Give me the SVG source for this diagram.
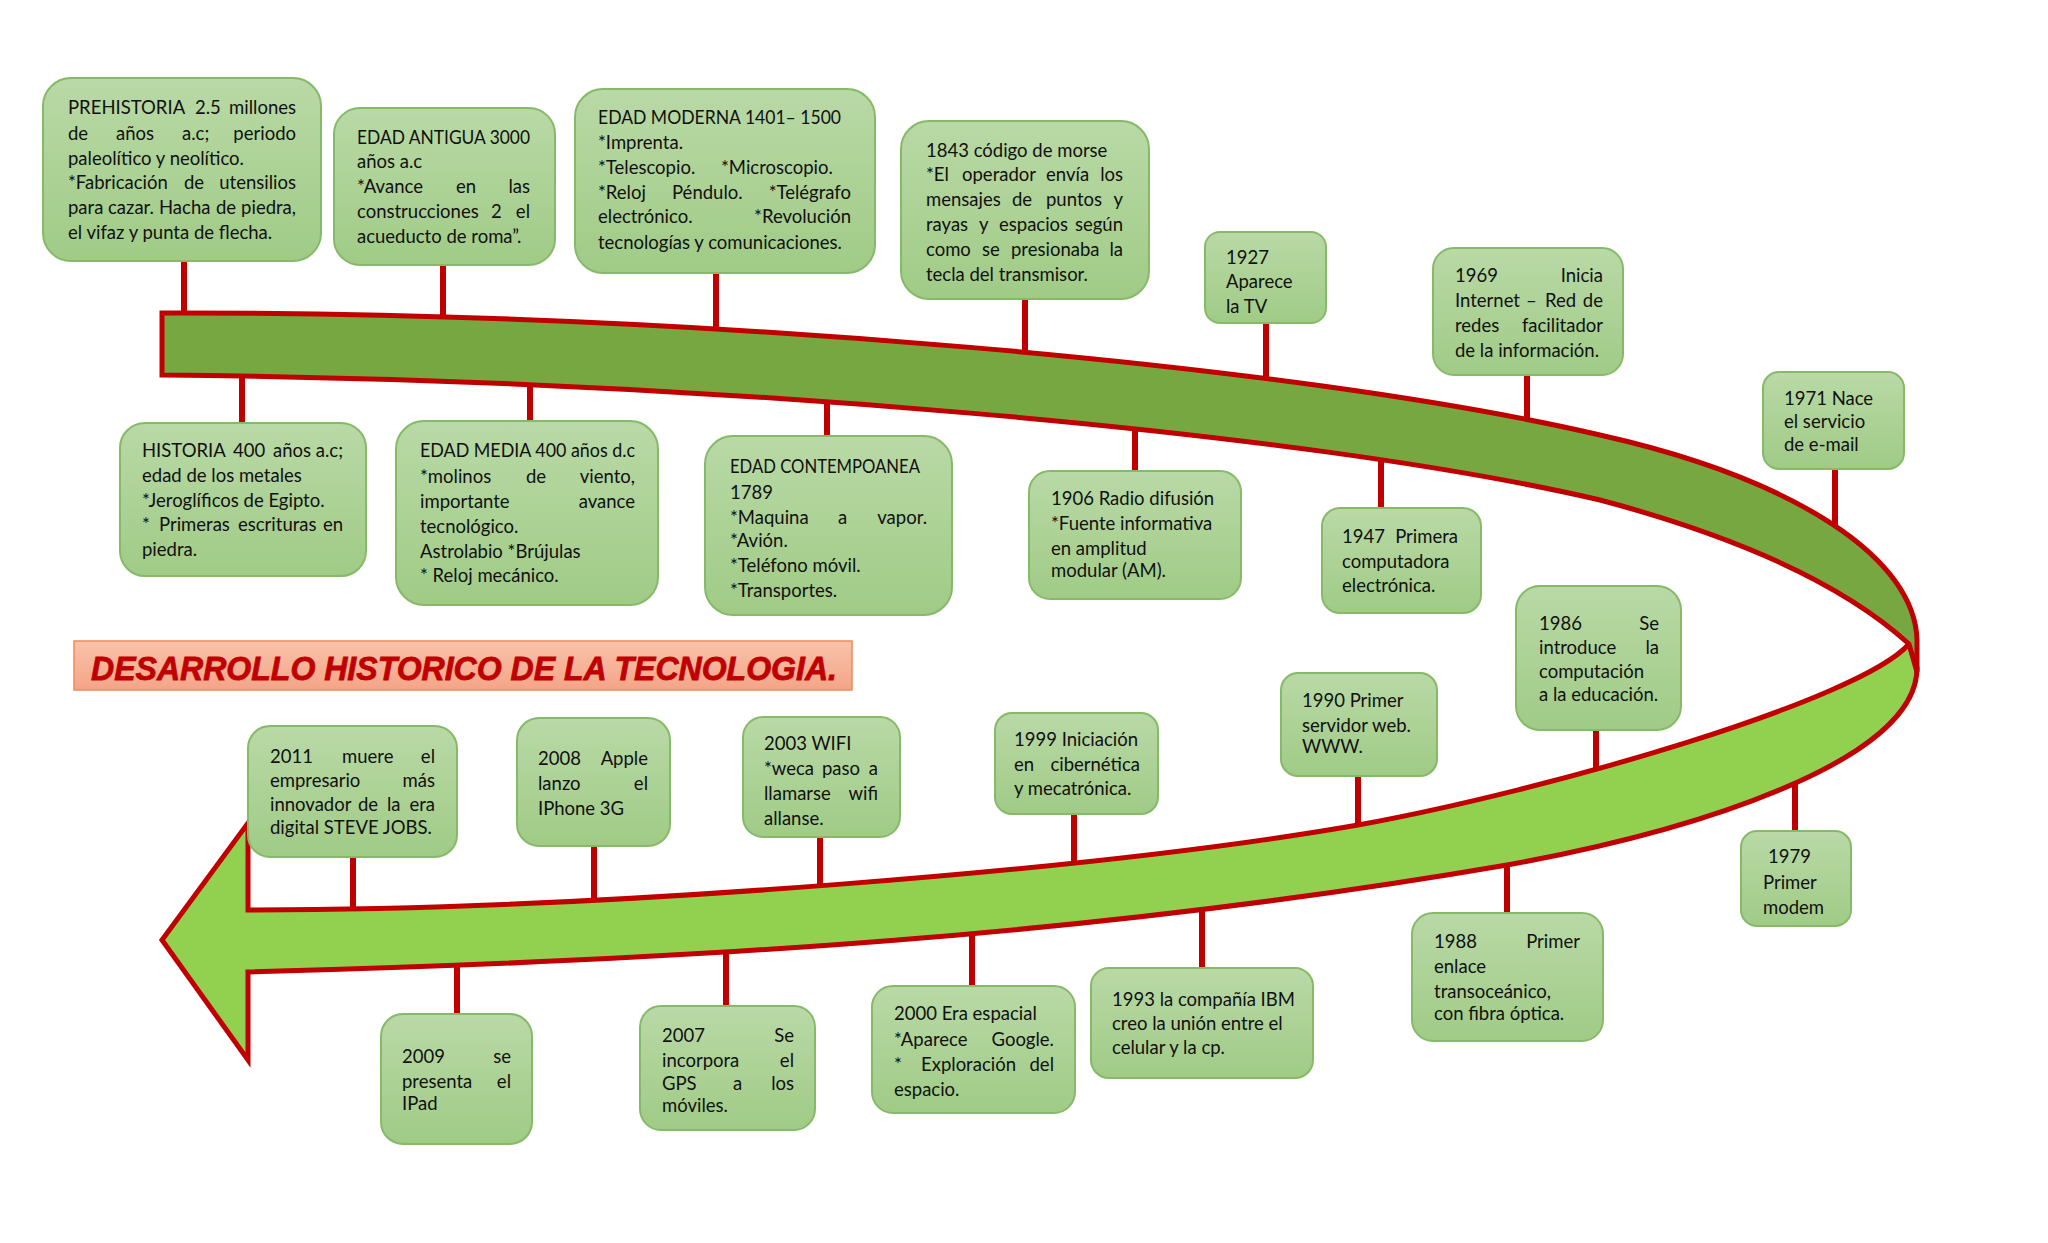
<svg xmlns="http://www.w3.org/2000/svg" width="2048" height="1243" viewBox="0 0 2048 1243">
<defs>
<linearGradient id="gBox" x1="0" y1="0" x2="0" y2="1"><stop offset="0" stop-color="#b9d9a6"/><stop offset="1" stop-color="#a0cb86"/></linearGradient>
<linearGradient id="gTitle" x1="0" y1="0" x2="0" y2="1"><stop offset="0" stop-color="#f9c3ab"/><stop offset="1" stop-color="#f4a487"/></linearGradient>
</defs>
<style>
.bx{fill:url(#gBox);stroke:#86ba69;stroke-width:2}
.t{font-family:Lato,'Open Sans',sans-serif;font-size:18.5px;fill:#111111}
.e{text-anchor:end}
.cn{stroke:#c00000;stroke-width:6;fill:none}
.band{stroke:#c00000;stroke-width:5;stroke-linejoin:miter}
</style>
<rect width="2048" height="1243" fill="#ffffff"/>
<g id="connectors">
<line class="cn" x1="184" y1="261" x2="184" y2="323"/>
<line class="cn" x1="443" y1="265" x2="443" y2="326"/>
<line class="cn" x1="716" y1="273" x2="716" y2="333"/>
<line class="cn" x1="1025" y1="299" x2="1025" y2="360"/>
<line class="cn" x1="1266" y1="323" x2="1266" y2="385"/>
<line class="cn" x1="1527" y1="375" x2="1527" y2="427"/>
<line class="cn" x1="1835" y1="469" x2="1835" y2="530"/>
<line class="cn" x1="242" y1="367" x2="242" y2="423"/>
<line class="cn" x1="530" y1="373" x2="530" y2="421"/>
<line class="cn" x1="827" y1="387" x2="827" y2="436"/>
<line class="cn" x1="1135" y1="416" x2="1135" y2="471"/>
<line class="cn" x1="1381" y1="450" x2="1381" y2="508"/>
<line class="cn" x1="353" y1="857" x2="353" y2="918"/>
<line class="cn" x1="594" y1="846" x2="594" y2="912"/>
<line class="cn" x1="820" y1="837" x2="820" y2="898"/>
<line class="cn" x1="1074" y1="814" x2="1074" y2="875"/>
<line class="cn" x1="1358" y1="776" x2="1358" y2="835"/>
<line class="cn" x1="1596" y1="730" x2="1596" y2="790"/>
<line class="cn" x1="457" y1="955" x2="457" y2="1014"/>
<line class="cn" x1="726" y1="943" x2="726" y2="1006"/>
<line class="cn" x1="972" y1="927" x2="972" y2="986"/>
<line class="cn" x1="1202" y1="904" x2="1202" y2="968"/>
<line class="cn" x1="1507" y1="855" x2="1507" y2="913"/>
<line class="cn" x1="1795" y1="780" x2="1795" y2="831"/>
</g>
<g id="timeline">
<path class="band" fill="#92d050" d="M1909,644 C1860,700 1550,790 1358,825 C1100,870 600,910 248,910 L248,823 L162,940 L248,1060 L248,972 C700,960 1100,935 1507,865 C1700,830 1917,760 1917,668 Z"/>
<path class="band" fill="#76a740" d="M162,313 C700,312 1300,365 1600,435 C1800,480 1915,560 1917,640 L1917,672 L1909,644 C1850,590 1750,540 1600,500 C1300,430 700,380 162,375 Z"/>
</g>
<g id="title">
<rect x="74" y="641" width="778" height="49" fill="url(#gTitle)" stroke="#ee8a5c" stroke-width="1.5"/>
<text x="91" y="680" font-family="'Liberation Sans',Arial,sans-serif" font-weight="bold" font-style="italic" font-size="34" fill="#c00000" stroke="#c00000" stroke-width="0.8" textLength="746" lengthAdjust="spacingAndGlyphs">DESARROLLO HISTORICO DE LA TECNOLOGIA.</text>
</g>
<g id="n-prehistoria">
<rect class="bx" x="43" y="78" width="278" height="183" rx="28"/>
<text class="t" y="114"><tspan x="68">PREHISTORIA</tspan><tspan x="195">2.5</tspan><tspan x="296" class="e">millones</tspan></text>
<text class="t" y="140"><tspan x="68">de</tspan><tspan x="116">años</tspan><tspan x="182">a.c;</tspan><tspan x="296" class="e">periodo</tspan></text>
<text class="t" x="68" y="165">paleolítico y neolítico.</text>
<text class="t" y="189"><tspan x="68">*Fabricación</tspan><tspan x="184">de</tspan><tspan x="296" class="e">utensilios</tspan></text>
<text class="t" y="214"><tspan x="68">para</tspan><tspan x="108">cazar.</tspan><tspan x="159">Hacha</tspan><tspan x="216">de</tspan><tspan x="296" class="e">piedra,</tspan></text>
<text class="t" x="68" y="239">el vifaz y punta de flecha.</text>
</g>
<g id="n-antigua">
<rect class="bx" x="334" y="108" width="221" height="157" rx="26"/>
<text class="t" x="357" y="144" textLength="173" lengthAdjust="spacingAndGlyphs">EDAD ANTIGUA 3000</text>
<text class="t" x="357" y="168">años a.c</text>
<text class="t" y="193"><tspan x="357">*Avance</tspan><tspan x="456">en</tspan><tspan x="530" class="e">las</tspan></text>
<text class="t" y="218"><tspan x="357">construcciones</tspan><tspan x="491">2</tspan><tspan x="530" class="e">el</tspan></text>
<text class="t" x="357" y="243">acueducto de roma”.</text>
</g>
<g id="n-moderna">
<rect class="bx" x="575" y="89" width="300" height="184" rx="28"/>
<text class="t" x="598" y="124" textLength="243" lengthAdjust="spacingAndGlyphs">EDAD MODERNA 1401– 1500</text>
<text class="t" x="598" y="149">*Imprenta.</text>
<text class="t" y="174"><tspan x="598">*Telescopio.</tspan><tspan x="721">*Microscopio.</tspan></text>
<text class="t" y="199"><tspan x="598">*Reloj</tspan><tspan x="672">Péndulo.</tspan><tspan x="851" class="e">*Telégrafo</tspan></text>
<text class="t" y="223"><tspan x="598">electrónico.</tspan><tspan x="851" class="e">*Revolución</tspan></text>
<text class="t" x="598" y="249">tecnologías y comunicaciones.</text>
</g>
<g id="n-1843">
<rect class="bx" x="901" y="121" width="248" height="178" rx="28"/>
<text class="t" x="926" y="157">1843 código de morse</text>
<text class="t" y="181"><tspan x="926">*El</tspan><tspan x="962">operador</tspan><tspan x="1046">envía</tspan><tspan x="1123" class="e">los</tspan></text>
<text class="t" y="206"><tspan x="926">mensajes</tspan><tspan x="1012">de</tspan><tspan x="1046">puntos</tspan><tspan x="1123" class="e">y</tspan></text>
<text class="t" y="231"><tspan x="926">rayas</tspan><tspan x="979">y</tspan><tspan x="999">espacios</tspan><tspan x="1123" class="e">según</tspan></text>
<text class="t" y="256"><tspan x="926">como</tspan><tspan x="982">se</tspan><tspan x="1011">presionaba</tspan><tspan x="1123" class="e">la</tspan></text>
<text class="t" x="926" y="281">tecla del transmisor.</text>
</g>
<g id="n-1927">
<rect class="bx" x="1205" y="232" width="121" height="91" rx="15"/>
<text class="t" x="1226" y="264">1927</text>
<text class="t" x="1226" y="288">Aparece</text>
<text class="t" x="1226" y="313">la TV</text>
</g>
<g id="n-1969">
<rect class="bx" x="1433" y="248" width="190" height="127" rx="21"/>
<text class="t" y="282"><tspan x="1455">1969</tspan><tspan x="1603" class="e">Inicia</tspan></text>
<text class="t" y="307"><tspan x="1455">Internet</tspan><tspan x="1526">–</tspan><tspan x="1545">Red</tspan><tspan x="1603" class="e">de</tspan></text>
<text class="t" y="332"><tspan x="1455">redes</tspan><tspan x="1603" class="e">facilitador</tspan></text>
<text class="t" x="1455" y="357">de la información.</text>
</g>
<g id="n-1971">
<rect class="bx" x="1763" y="372" width="141" height="97" rx="16"/>
<text class="t" x="1784" y="405">1971 Nace</text>
<text class="t" x="1784" y="428">el servicio</text>
<text class="t" x="1784" y="451">de e-mail</text>
</g>
<g id="n-historia">
<rect class="bx" x="120" y="423" width="246" height="153" rx="25"/>
<text class="t" y="457"><tspan x="142">HISTORIA</tspan><tspan x="233">400</tspan><tspan x="273">años</tspan><tspan x="343" class="e">a.c;</tspan></text>
<text class="t" x="142" y="482">edad de los metales</text>
<text class="t" x="142" y="507">*Jeroglíficos de Egipto.</text>
<text class="t" y="531"><tspan x="142">*</tspan><tspan x="159">Primeras</tspan><tspan x="238">escrituras</tspan><tspan x="343" class="e">en</tspan></text>
<text class="t" x="142" y="556">piedra.</text>
</g>
<g id="n-media">
<rect class="bx" x="396" y="421" width="262" height="184" rx="28"/>
<text class="t" x="420" y="457" textLength="215" lengthAdjust="spacingAndGlyphs">EDAD MEDIA 400 años d.c</text>
<text class="t" y="483"><tspan x="420">*molinos</tspan><tspan x="526">de</tspan><tspan x="635" class="e">viento,</tspan></text>
<text class="t" y="508"><tspan x="420">importante</tspan><tspan x="635" class="e">avance</tspan></text>
<text class="t" x="420" y="533">tecnológico.</text>
<text class="t" x="420" y="558">Astrolabio *Brújulas</text>
<text class="t" x="420" y="582">* Reloj mecánico.</text>
</g>
<g id="n-contemporanea">
<rect class="bx" x="705" y="436" width="247" height="179" rx="28"/>
<text class="t" x="730" y="473" textLength="190" lengthAdjust="spacingAndGlyphs">EDAD CONTEMPOANEA</text>
<text class="t" x="730" y="499">1789</text>
<text class="t" y="524"><tspan x="730">*Maquina</tspan><tspan x="838">a</tspan><tspan x="927" class="e">vapor.</tspan></text>
<text class="t" x="730" y="547">*Avión.</text>
<text class="t" x="730" y="572">*Teléfono móvil.</text>
<text class="t" x="730" y="597">*Transportes.</text>
</g>
<g id="n-1906">
<rect class="bx" x="1029" y="471" width="212" height="128" rx="21"/>
<text class="t" x="1051" y="505">1906 Radio difusión</text>
<text class="t" x="1051" y="530">*Fuente informativa</text>
<text class="t" x="1051" y="555">en amplitud</text>
<text class="t" x="1051" y="577">modular (AM).</text>
</g>
<g id="n-1947">
<rect class="bx" x="1322" y="508" width="159" height="105" rx="18"/>
<text class="t" y="543"><tspan x="1342">1947</tspan><tspan x="1458" class="e">Primera</tspan></text>
<text class="t" x="1342" y="568">computadora</text>
<text class="t" x="1342" y="592">electrónica.</text>
</g>
<g id="n-2011">
<rect class="bx" x="248" y="726" width="209" height="131" rx="22"/>
<text class="t" y="763"><tspan x="270">2011</tspan><tspan x="342">muere</tspan><tspan x="435" class="e">el</tspan></text>
<text class="t" y="787"><tspan x="270">empresario</tspan><tspan x="435" class="e">más</tspan></text>
<text class="t" y="811"><tspan x="270">innovador</tspan><tspan x="358">de</tspan><tspan x="387">la</tspan><tspan x="435" class="e">era</tspan></text>
<text class="t" x="270" y="834">digital STEVE JOBS.</text>
</g>
<g id="n-2008">
<rect class="bx" x="517" y="718" width="153" height="128" rx="22"/>
<text class="t" y="765"><tspan x="538">2008</tspan><tspan x="648" class="e">Apple</tspan></text>
<text class="t" y="790"><tspan x="538">lanzo</tspan><tspan x="648" class="e">el</tspan></text>
<text class="t" x="538" y="815">IPhone 3G</text>
</g>
<g id="n-2003">
<rect class="bx" x="743" y="717" width="157" height="120" rx="20"/>
<text class="t" x="764" y="750">2003 WIFI</text>
<text class="t" y="775"><tspan x="764">*weca</tspan><tspan x="822">paso</tspan><tspan x="878" class="e">a</tspan></text>
<text class="t" y="800"><tspan x="764">llamarse</tspan><tspan x="878" class="e">wifi</tspan></text>
<text class="t" x="764" y="825">allanse.</text>
</g>
<g id="n-1999">
<rect class="bx" x="995" y="713" width="163" height="101" rx="17"/>
<text class="t" x="1014" y="746">1999 Iniciación</text>
<text class="t" y="771"><tspan x="1014">en</tspan><tspan x="1140" class="e">cibernética</tspan></text>
<text class="t" x="1014" y="795">y mecatrónica.</text>
</g>
<g id="n-1990">
<rect class="bx" x="1281" y="673" width="156" height="103" rx="17"/>
<text class="t" x="1302" y="707">1990 Primer</text>
<text class="t" x="1302" y="732">servidor web.</text>
<text class="t" x="1302" y="753">WWW.</text>
</g>
<g id="n-1986">
<rect class="bx" x="1516" y="586" width="165" height="144" rx="24"/>
<text class="t" y="630"><tspan x="1539">1986</tspan><tspan x="1659" class="e">Se</tspan></text>
<text class="t" y="654"><tspan x="1539">introduce</tspan><tspan x="1659" class="e">la</tspan></text>
<text class="t" x="1539" y="678">computación</text>
<text class="t" x="1539" y="701">a la educación.</text>
</g>
<g id="n-2009">
<rect class="bx" x="381" y="1014" width="151" height="130" rx="22"/>
<text class="t" y="1063"><tspan x="402">2009</tspan><tspan x="511" class="e">se</tspan></text>
<text class="t" y="1088"><tspan x="402">presenta</tspan><tspan x="511" class="e">el</tspan></text>
<text class="t" x="402" y="1110">IPad</text>
</g>
<g id="n-2007">
<rect class="bx" x="640" y="1006" width="175" height="124" rx="21"/>
<text class="t" y="1042"><tspan x="662">2007</tspan><tspan x="794" class="e">Se</tspan></text>
<text class="t" y="1067"><tspan x="662">incorpora</tspan><tspan x="794" class="e">el</tspan></text>
<text class="t" y="1090"><tspan x="662">GPS</tspan><tspan x="733">a</tspan><tspan x="794" class="e">los</tspan></text>
<text class="t" x="662" y="1112">móviles.</text>
</g>
<g id="n-2000">
<rect class="bx" x="872" y="986" width="203" height="127" rx="21"/>
<text class="t" x="894" y="1020">2000 Era espacial</text>
<text class="t" y="1046"><tspan x="894">*Aparece</tspan><tspan x="1054" class="e">Google.</tspan></text>
<text class="t" y="1071"><tspan x="894">*</tspan><tspan x="921">Exploración</tspan><tspan x="1054" class="e">del</tspan></text>
<text class="t" x="894" y="1096">espacio.</text>
</g>
<g id="n-1993">
<rect class="bx" x="1091" y="968" width="222" height="110" rx="18"/>
<text class="t" x="1112" y="1006">1993 la compañía IBM</text>
<text class="t" x="1112" y="1030">creo la unión entre el</text>
<text class="t" x="1112" y="1054">celular y la cp.</text>
</g>
<g id="n-1988">
<rect class="bx" x="1412" y="913" width="191" height="128" rx="21"/>
<text class="t" y="948"><tspan x="1434">1988</tspan><tspan x="1580" class="e">Primer</tspan></text>
<text class="t" x="1434" y="973">enlace</text>
<text class="t" x="1434" y="998">transoceánico,</text>
<text class="t" x="1434" y="1020">con fibra óptica.</text>
</g>
<g id="n-1979">
<rect class="bx" x="1741" y="831" width="110" height="95" rx="16"/>
<text class="t" x="1768" y="863">1979</text>
<text class="t" x="1763" y="889">Primer</text>
<text class="t" x="1763" y="914">modem</text>
</g>
</svg>
